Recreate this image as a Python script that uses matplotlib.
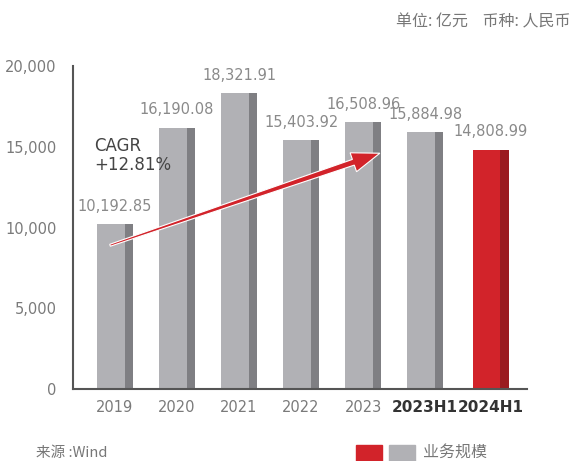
import numpy as np
import matplotlib.pyplot as plt
import matplotlib.patches as mpatches

plt.rcParams['font.family'] = ['DejaVu Sans', 'Noto Sans CJK SC']

categories = ['2019', '2020', '2021', '2022', '2023', '2023H1', '2024H1']
values = [10192.85, 16190.08, 18321.91, 15403.92, 16508.96, 15884.98, 14808.99]
value_labels = ['10,192.85', '16,190.08', '18,321.91', '15,403.92', '16,508.96', '15,884.98', '14,808.99']
bold_ticks = ['2023H1', '2024H1']
y_ticks = [0, 5000, 10000, 15000, 20000]
y_tick_labels = ['0', '5,000', '10,000', '15,000', '20,000']
cagr_text = 'CAGR\n+12.81%'

# layout
xpos = np.array([0, 1, 2, 3, 4, 5, 6.06])
light_w = 0.44
dark_w = 0.13
light_gray = '#b1b1b5'
dark_gray = '#7f7f83'
red = '#d2232a'
dark_red = '#9a1b20'

fig = plt.figure(figsize=(5.73, 4.61), dpi=100)
ax = fig.add_axes([0.1274, 0.1562, 0.7926, 0.7006])

for i, (x, v) in enumerate(zip(xpos, values)):
    c1, c2 = (red, dark_red) if i == len(values) - 1 else (light_gray, dark_gray)
    left = x - (light_w + dark_w) / 2
    ax.bar(left, v, width=light_w, align='edge', color=c1, linewidth=0, zorder=2)
    ax.bar(left + light_w, v, width=dark_w, align='edge', color=c2, linewidth=0, zorder=2)
    ax.text(x, v + 650, value_labels[i], ha='center', va='bottom',
            fontsize=10.5, color='#8a8a8a')

ax.set_xlim(-0.677, 6.645)
ax.set_ylim(0, 20000)
ax.set_yticks(y_ticks)
ax.set_yticklabels(y_tick_labels, fontsize=10.5, color='#7a7a7a')
ax.set_xticks(xpos)
ax.set_xticklabels(categories, fontsize=10.5, color='#7a7a7a')
for lbl in ax.get_xticklabels():
    if lbl.get_text() in bold_ticks:
        lbl.set_fontweight('bold')
        lbl.set_color('#333333')
        lbl.set_fontsize(11)
ax.tick_params(length=0, pad=8)
ax.tick_params(axis='y', pad=12)
for s in ['top', 'right']:
    ax.spines[s].set_visible(False)
for s in ['left', 'bottom']:
    ax.spines[s].set_color('#555555')
    ax.spines[s].set_linewidth(1.5)

ax.text(-0.34, 13300, cagr_text, fontsize=12, color='#444444',
        va='bottom', ha='left', linespacing=1.1)

# tapered arrow, built in pixel space
fig.canvas.draw()
p0 = ax.transData.transform((-0.08, 8900))
p1 = ax.transData.transform((4.27, 14600))
d = (p1 - p0) / np.linalg.norm(p1 - p0)
n = np.array([-d[1], d[0]])
head_len, head_w, shaft_w = 28, 10, 3.0
base = p1 - d * head_len
pts = [p0 - n * 1.0, base - n * shaft_w, base - n * head_w, p1,
       base + n * head_w, base + n * shaft_w, p0 + n * 1.0]
poly = mpatches.Polygon(ax.transData.inverted().transform(pts), closed=True,
                        facecolor=red, edgecolor='white', linewidth=0.8,
                        joinstyle='miter', zorder=5)
ax.add_patch(poly)

fig.text(0.995, 0.952, '单位: 亿元    币种: 人民币', ha='right', va='center',
         fontsize=11.5, color='#777777', style='italic', family=['Noto Sans CJK SC'])
fig.text(0.063, 0.018, '来源 :Wind', ha='left', va='center', fontsize=10.5,
         color='#777777', family=['Noto Sans CJK SC', 'DejaVu Sans'])
fig.add_artist(mpatches.Rectangle((356 / 573, 0), 26 / 573, 16 / 461,
                                  transform=fig.transFigure, color=red))
fig.add_artist(mpatches.Rectangle((389 / 573, 0), 26 / 573, 16 / 461,
                                  transform=fig.transFigure, color=light_gray))
fig.text(423 / 573, 0.018, '业务规模', ha='left', va='center', fontsize=11.5,
         color='#777777', family=['Noto Sans CJK SC'])

fig.savefig('out.png', dpi=100)
